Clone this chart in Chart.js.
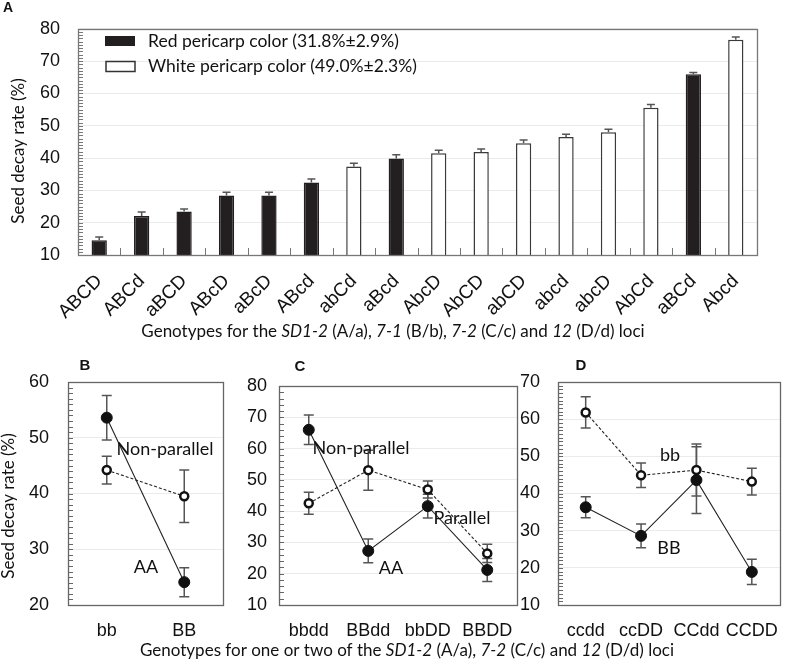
<!DOCTYPE html>
<html>
<head>
<meta charset="utf-8">
<script src="https://cdn.jsdelivr.net/npm/chart.js@4.4.1/dist/chart.umd.min.js"></script>
<style>
  body { margin: 0; background: #fff; }
  #page { position: relative; width: 786px; height: 665px; overflow: hidden; }
  canvas { position: absolute; }
</style>
</head>
<body>
<div id="page">
  <canvas id="chartA" width="786" height="345" style="left:0;top:0;width:786px;height:345px"></canvas>
  <canvas id="chartC" width="786" height="325" style="left:0;top:340px;width:786px;height:325px"></canvas>
  <canvas id="chartB" width="235" height="325" style="left:0;top:340px;width:235px;height:325px"></canvas>
  <canvas id="chartD" width="266" height="325" style="left:520px;top:340px;width:266px;height:325px"></canvas>
</div>
<script>
"use strict"

// Panel A: seed decay rate per four-locus genotype
const genotypes = ["ABCD", "ABCd", "aBCD", "ABcD", "aBcD", "ABcd", "abCd", "aBcd",
                   "AbcD", "AbCD", "abCD", "abcd", "abcD", "AbCd", "aBCd", "Abcd"];
const decayRate = [14.6, 22.1, 23.5, 28.4, 28.4, 32.4, 37.4, 39.9,
                   41.5, 41.9, 44.6, 46.5, 48.0, 55.6, 65.9, 76.6];
const decayErr = [1.0, 1.2, 0.7, 1.0, 1.0, 1.1, 1.0, 1.1,
                  0.9, 0.9, 1.0, 0.9, 0.9, 1.0, 0.6, 0.9];
const pericarp = ["red", "red", "red", "red", "red", "red", "white", "red",
                  "white", "white", "white", "white", "white", "white", "red", "white"];

// Panel B: SD1-2 x 7-1
const bLabels = ["bb", "BB"];
const bSolid = [53.6, 24.1];
const bSolidErr = [4.0, 2.6];
const bDashed = [44.2, 39.5];
const bDashedErr = [2.5, 4.7];

// Panel C: SD1-2 x 7-1 x 12
const cLabels = ["bbdd", "BBdd", "bbDD", "BBDD"];
const cSolid = [66.0, 27.3, 41.6, 21.2];
const cSolidErr = [4.7, 3.8, 3.8, 3.7];
const cDashed = [42.5, 53.1, 46.9, 26.5];
const cDashedErr = [3.5, 6.4, 2.7, 2.9];

// Panel D: 7-1 x 7-2 x 12
const dLabels = ["ccdd", "ccDD", "CCdd", "CCDD"];
const dDashed = [61.8, 44.9, 46.3, 43.2];
const dDashedErr = [4.2, 3.3, 7.0, 3.6];
const dSolid = [36.3, 28.6, 43.6, 18.9];
const dSolidErr = [2.8, 3.2, 9.0, 3.4];

const SANS = "'Liberation Sans', Arial, sans-serif";
const HUM = "Lato, 'Open Sans', sans-serif";
const INK = "#111";

function text(ctx, s, x, y, font, align) {
  ctx.save();
  ctx.font = font;
  ctx.fillStyle = INK;
  ctx.textAlign = align || "center";
  ctx.textBaseline = "middle";
  ctx.fillText(s, x, y);
  ctx.restore();
}

// text with italic runs, centred on cx
function richText(ctx, parts, cx, cy, size) {
  ctx.save();
  ctx.fillStyle = INK;
  ctx.textBaseline = "middle";
  ctx.textAlign = "left";
  let total = 0;
  parts.forEach(p => {
    ctx.font = (p[1] ? "italic " : "") + size + "px " + HUM;
    total += ctx.measureText(p[0]).width;
  });
  let x = cx - total / 2;
  parts.forEach(p => {
    ctx.font = (p[1] ? "italic " : "") + size + "px " + HUM;
    ctx.fillText(p[0], x, cy);
    x += ctx.measureText(p[0]).width;
  });
  ctx.restore();
}

function frameAndMinor(chart, minorStep, color) {
  const ctx = chart.ctx, a = chart.chartArea, y = chart.scales.y;
  ctx.save();
  ctx.strokeStyle = color;
  ctx.lineWidth = 1;
  ctx.beginPath();
  for (let v = y.min; v <= y.max + 0.001; v += minorStep) {
    const py = Math.round(y.getPixelForValue(v)) + 0.5;
    ctx.moveTo(a.left, py);
    ctx.lineTo(a.left + 5, py);
  }
  ctx.stroke();
  ctx.lineWidth = 1.3;
  ctx.strokeRect(Math.round(a.left) + 0.5, Math.round(a.top) + 0.5,
                 Math.round(a.right - a.left), Math.round(a.bottom - a.top));
  ctx.restore();
}

function errorBars(chart, both, cap) {
  const ctx = chart.ctx, y = chart.scales.y;
  chart.data.datasets.forEach((ds, i) => {
    const meta = chart.getDatasetMeta(i);
    ctx.save();
    ctx.strokeStyle = "#555";
    ctx.lineWidth = 1.5;
    meta.data.forEach((el, j) => {
      const v = ds.data[j], e = ds.errors[j];
      const top = y.getPixelForValue(v + e);
      const bot = both ? y.getPixelForValue(v - e) : el.y;
      ctx.beginPath();
      ctx.moveTo(el.x, top); ctx.lineTo(el.x, bot);
      ctx.moveTo(el.x - cap, top); ctx.lineTo(el.x + cap, top);
      if (both) { ctx.moveTo(el.x - cap, bot); ctx.lineTo(el.x + cap, bot); }
      ctx.stroke();
    });
    ctx.restore();
  });
}

// ---------- Panel A ----------
new Chart(document.getElementById("chartA"), {
  type: "bar",
  data: {
    labels: genotypes,
    datasets: [{
      data: decayRate,
      errors: decayErr,
      backgroundColor: pericarp.map(p => p === "red" ? "#231f20" : "#ffffff"),
      borderColor: pericarp.map(p => p === "red" ? "#231f20" : "#3a3a3a"),
      borderWidth: 1.5,
      categoryPercentage: 1,
      barPercentage: 0.36
    }]
  },
  options: {
    responsive: false, animation: false, devicePixelRatio: 1,
    layout: { padding: { left: 0, right: 29, top: 11, bottom: 0 } },
    plugins: { legend: { display: false }, tooltip: { enabled: false } },
    scales: {
      x: {
        grid: { display: false }, border: { display: false },
        ticks: { autoSkip: false, minRotation: 45, maxRotation: 45, padding: 7,
                 color: INK, font: { family: SANS, size: 19 } },
        afterFit(s) { s.height = 90; }
      },
      y: {
        min: 10, max: 80,
        grid: { color: "#ebebeb", drawTicks: false }, border: { display: false },
        ticks: { stepSize: 10, padding: 18, color: INK, font: { family: SANS, size: 18 } },
        afterFit(s) { s.width = 78; }
      }
    }
  },
  plugins: [{
    id: "decorA",
    afterDatasetsDraw(chart) {
      const ctx = chart.ctx, a = chart.chartArea, x = chart.scales.x;
      errorBars(chart, false, 4);
      frameAndMinor(chart, 1, "#777");
      // category boundary ticks
      ctx.save();
      ctx.strokeStyle = "#777";
      ctx.lineWidth = 1;
      ctx.beginPath();
      for (let i = 1; i < genotypes.length; i++) {
        const px = Math.round((x.getPixelForValue(i - 1) + x.getPixelForValue(i)) / 2) + 0.5;
        ctx.moveTo(px, a.bottom);
        ctx.lineTo(px, a.bottom - 7);
      }
      ctx.stroke();
      // legend
      ctx.fillStyle = "#231f20";
      ctx.fillRect(105, 36, 30, 10);
      ctx.strokeStyle = "#333";
      ctx.lineWidth = 1.5;
      ctx.strokeRect(106, 61.5, 29, 10);
      ctx.restore();
      text(ctx, "Red pericarp color (31.8%±2.9%)", 148, 41, "17.5px " + HUM, "left");
      text(ctx, "White pericarp color (49.0%±2.3%)", 148, 66, "17.5px " + HUM, "left");
      // titles
      text(ctx, "A", 8, 8, "bold 14px " + SANS);
      ctx.save();
      ctx.translate(19, 151);
      ctx.rotate(-Math.PI / 2);
      text(ctx, "Seed decay rate (%)", 0, 0, "17px " + HUM);
      ctx.restore();
      richText(ctx, [["Genotypes for the ", false], ["SD1-2", true], [" (A/a), ", false],
                     ["7-1", true], [" (B/b), ", false], ["7-2", true], [" (C/c) and ", false],
                     ["12", true], [" (D/d) loci", false]], 393, 332, 17);
    }
  }]
});

// ---------- Panels B, C, D ----------
function lineSets(solid, solidErr, dashed, dashedErr, solidName, dashedName) {
  return [
    { label: dashedName, data: dashed, errors: dashedErr,
      borderColor: "#222", borderWidth: 1.1, borderDash: [3, 2],
      pointRadius: 4, pointBorderWidth: 2.5, pointBackgroundColor: "#fff",
      pointBorderColor: "#111", fill: false, tension: 0 },
    { label: solidName, data: solid, errors: solidErr,
      borderColor: "#222", borderWidth: 1.1,
      pointRadius: 5.5, pointBorderWidth: 1, pointBackgroundColor: "#111",
      pointBorderColor: "#111", fill: false, tension: 0 }
  ];
}

function lineOptions(min, max, yWidth, tickPad, pad) {
  return {
    responsive: false, animation: false, devicePixelRatio: 1,
    layout: { padding: pad },
    plugins: { legend: { display: false }, tooltip: { enabled: false } },
    scales: {
      x: {
        offset: true, grid: { display: false }, border: { display: false },
        ticks: { autoSkip: false, maxRotation: 0, padding: 7, color: INK,
                 font: { family: SANS, size: 18 } },
        afterFit(s) { s.height = 60; }
      },
      y: {
        min: min, max: max,
        grid: { color: "#ebebeb", drawTicks: false }, border: { display: false },
        ticks: { stepSize: 10, padding: tickPad, color: INK, font: { family: SANS, size: 18 } },
        afterFit(s) { s.width = yWidth; }
      }
    }
  };
}

new Chart(document.getElementById("chartB"), {
  type: "line",
  data: { labels: bLabels, datasets: lineSets(bSolid, bSolidErr, bDashed, bDashedErr, "AA", "aa") },
  options: lineOptions(20, 60, 68, 19, { left: 0, right: 12, top: 42, bottom: 0 }),
  plugins: [{
    id: "decorB",
    beforeDatasetsDraw(chart) { errorBars(chart, true, 5); },
    afterDraw(chart) {
      const ctx = chart.ctx;
      frameAndMinor(chart, 1, "#666");
      text(ctx, "B", 85, 26, "bold 15px " + SANS);
      text(ctx, "Non-parallel", 165, 109, "18px " + HUM);
      text(ctx, "AA", 146, 227, "18px " + HUM);
      ctx.save();
      ctx.translate(9, 166);
      ctx.rotate(-Math.PI / 2);
      text(ctx, "Seed decay rate (%)", 0, 0, "17px " + HUM);
      ctx.restore();
    }
  }]
});

new Chart(document.getElementById("chartC"), {
  type: "line",
  data: { labels: cLabels, datasets: lineSets(cSolid, cSolidErr, cDashed, cDashedErr, "AA", "aa") },
  options: lineOptions(10, 80, 279, 12, { left: 0, right: 269, top: 46, bottom: 0 }),
  plugins: [{
    id: "decorC",
    beforeDatasetsDraw(chart) { errorBars(chart, true, 5); },
    afterDraw(chart) {
      const ctx = chart.ctx;
      frameAndMinor(chart, 2, "#666");
      text(ctx, "C", 300, 27, "bold 15px " + SANS);
      text(ctx, "Non-parallel", 361, 108, "18px " + HUM);
      text(ctx, "AA", 391, 228, "18px " + HUM);
      text(ctx, "Parallel", 462, 178, "18px " + HUM);
      richText(ctx, [["Genotypes for one or two of the ", false], ["SD1-2", true],
                     [" (A/a), ", false], ["7-2", true], [" (C/c) and ", false],
                     ["12", true], [" (D/d) loci", false]], 407, 311, 17);
    }
  }]
});

new Chart(document.getElementById("chartD"), {
  type: "line",
  data: { labels: dLabels, datasets: lineSets(dSolid, dSolidErr, dDashed, dDashedErr, "BB", "bb") },
  options: lineOptions(10, 70, 38, 18, { left: 0, right: 1, top: 42, bottom: 0 }),
  plugins: [{
    id: "decorD",
    beforeDatasetsDraw(chart) { errorBars(chart, true, 5); },
    afterDraw(chart) {
      const ctx = chart.ctx;
      frameAndMinor(chart, 1, "#666");
      text(ctx, "D", 61, 26, "bold 15px " + SANS);
      text(ctx, "bb", 150, 115, "18px " + HUM);
      text(ctx, "BB", 149, 208, "18px " + HUM);
    }
  }]
});
</script>
</body>
</html>
